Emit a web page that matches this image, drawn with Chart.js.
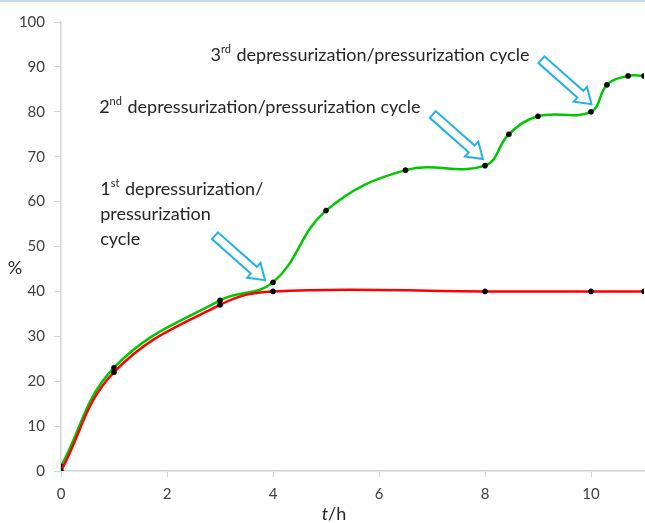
<!DOCTYPE html>
<html>
<head>
<meta charset="utf-8">
<script src="https://cdn.jsdelivr.net/npm/chart.js@4"></script>
<style>
  html, body { margin: 0; padding: 0; background: #fff; }
  canvas { display: block; }
</style>
</head>
<body>
<canvas id="cycleChart" width="645" height="523"></canvas>
<script>
// red: no cycling, green: with depressurization/pressurization cycles
const timeRed = [0, 1, 3, 4, 8, 10, 11];
const valuesRed = [0, 22, 37, 40, 40, 40, 40];
const timeGreen = [0, 1, 3, 4, 5, 6.5, 8, 8.45, 9, 10, 10.3, 10.7, 11];
const valuesGreen = [1, 23, 38, 42, 58, 67, 68, 75, 79, 80, 86, 88, 88];
const xTicks = [0, 2, 4, 6, 8, 10];
const yTicks = [0, 10, 20, 30, 40, 50, 60, 70, 80, 90, 100];
const cycleNumbers = ['1', '2', '3'];
const cycleSuffixes = ['st', 'nd', 'rd'];

const FONT = 'Lato, "Open Sans", sans-serif';
const TEXT = '#262626';

const toPoints = (xs, ys) => xs.map((x, i) => ({ x: x, y: ys[i] }));

// text with superscript on first segment
function drawSupText(ctx, x, y, num, sup, rest, size) {
    ctx.font = size + 'px ' + FONT;
    ctx.fillText(num, x, y);
    x += ctx.measureText(num).width;
    ctx.font = Math.round(size * 0.62) + 'px ' + FONT;
    ctx.fillText(sup, x, y - size * 0.3);
    x += ctx.measureText(sup).width + 1;
    ctx.font = size + 'px ' + FONT;
    ctx.fillText(rest, x, y);
}

function drawArrow(ctx, tipX, tipY) {
    const angle = Math.atan2(43.5, 49), len = 67;
    const shaft = 4.5, head = 10, headLen = 15;
    ctx.save();
    ctx.translate(tipX, tipY);
    ctx.rotate(angle);
    ctx.beginPath();
    ctx.moveTo(0, 0);
    ctx.lineTo(-headLen, -head);
    ctx.lineTo(-headLen, -shaft);
    ctx.lineTo(-len, -shaft);
    ctx.lineTo(-len, shaft);
    ctx.lineTo(-headLen, shaft);
    ctx.lineTo(-headLen, head);
    ctx.closePath();
    ctx.fillStyle = '#fff';
    ctx.fill();
    ctx.strokeStyle = '#21b0ec';
    ctx.lineWidth = 2;
    ctx.lineJoin = 'miter';
    ctx.stroke();
    ctx.restore();
}

const notesPlugin = {
    id: 'cycleNotes',
    beforeDraw(chart) {
        const ctx = chart.ctx;
        ctx.save();
        ctx.fillStyle = '#fff';
        ctx.fillRect(0, 0, chart.width, chart.height);
        ctx.fillStyle = '#c9dbf0';
        ctx.fillRect(0, 0, chart.width, 2);
        ctx.restore();
    },
    afterDatasetsDraw(chart) {
        const ctx = chart.ctx;
        const xs = chart.scales.x, ys = chart.scales.y;
        const px = v => xs.getPixelForValue(v);
        const py = v => ys.getPixelForValue(v);
        const size = 18;
        ctx.save();
        ctx.fillStyle = TEXT;
        ctx.textBaseline = 'middle';
        ctx.textAlign = 'left';

        // labels
        drawSupText(ctx, px(0.74), py(62.8), cycleNumbers[0], cycleSuffixes[0], ' depressurization/', size);
        ctx.font = size + 'px ' + FONT;
        ctx.fillText('pressurization', px(0.74), py(62.8) + 25);
        ctx.fillText('cycle', px(0.74), py(62.8) + 50);
        drawSupText(ctx, px(0.72), py(81.1), cycleNumbers[1], cycleSuffixes[1], ' depressurization/pressurization cycle', size);
        drawSupText(ctx, px(2.82), py(92.65), cycleNumbers[2], cycleSuffixes[2], ' depressurization/pressurization cycle', size);

        // arrows
        drawArrow(ctx, px(3.85), py(42.5));
        drawArrow(ctx, px(7.96), py(69.5));
        drawArrow(ctx, px(10.01), py(81.7));

        // axis titles
        ctx.font = size + 'px ' + FONT;
        ctx.textAlign = 'center';
        ctx.fillText('%', 15, py(45.2));
        ctx.textAlign = 'left';
        ctx.font = 'italic ' + size + 'px ' + FONT;
        const tW = ctx.measureText('t').width;
        ctx.font = size + 'px ' + FONT;
        const hW = ctx.measureText('/h').width;
        const cx = px(5.15), ty = chart.height - 9;
        ctx.font = 'italic ' + size + 'px ' + FONT;
        ctx.fillText('t', cx - (tW + hW) / 2, ty);
        ctx.font = size + 'px ' + FONT;
        ctx.fillText('/h', cx - (tW + hW) / 2 + tW, ty);
        ctx.restore();
    }
};

const axisColor = '#d4d4d4';

new Chart(document.getElementById('cycleChart').getContext('2d'), {
    type: 'line',
    data: {
        datasets: [
            {
                label: 'without cycles',
                data: toPoints(timeRed, valuesRed),
                borderColor: '#ff0000',
                borderWidth: 2.5,
                tension: 0.4,
                pointRadius: 2.6,
                pointBackgroundColor: '#000',
                pointBorderColor: '#000',
                pointBorderWidth: 0.5
            },
            {
                label: 'with cycles',
                data: toPoints(timeGreen, valuesGreen),
                borderColor: '#00c800',
                borderWidth: 2.5,
                tension: 0.4,
                pointRadius: 2.6,
                pointBackgroundColor: '#000',
                pointBorderColor: '#000',
                pointBorderWidth: 0.5
            }
        ]
    },
    options: {
        responsive: false,
        animation: false,
        layout: { autoPadding: false, padding: { top: 22, right: 1, left: 0, bottom: 0 } },
        plugins: {
            legend: { display: false },
            tooltip: { enabled: false }
        },
        scales: {
            x: {
                type: 'linear',
                min: 0,
                max: 11,
                afterFit: scale => { scale.height = 52; },
                afterBuildTicks: scale => { scale.ticks = xTicks.map(v => ({ value: v })); },
                grid: { drawOnChartArea: false, color: axisColor, tickLength: 6 },
                border: { color: axisColor, width: 1.5 },
                ticks: {
                    includeBounds: false,
                    stepSize: 2,
                    padding: 8,
                    color: '#404040',
                    font: { family: FONT, size: 15 }
                }
            },
            y: {
                min: 0,
                max: 100,
                afterFit: scale => { scale.width = 61; },
                afterBuildTicks: scale => { scale.ticks = yTicks.map(v => ({ value: v })); },
                grid: { drawOnChartArea: false, color: axisColor, tickLength: 7 },
                border: { color: axisColor, width: 1.5 },
                ticks: {
                    padding: 9,
                    color: '#404040',
                    font: { family: FONT, size: 15 }
                }
            }
        }
    },
    plugins: [notesPlugin]
});
</script>
</body>
</html>
